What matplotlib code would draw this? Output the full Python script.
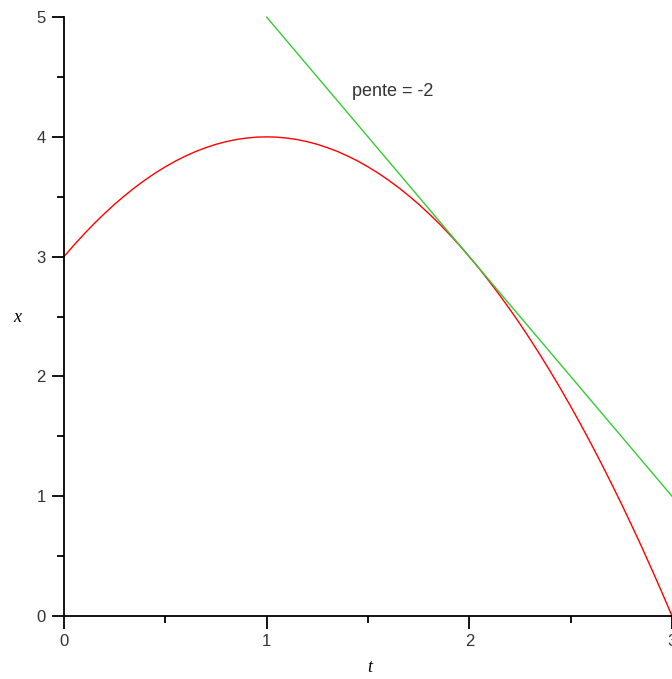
import matplotlib
matplotlib.use('Agg')
import matplotlib.pyplot as plt
from matplotlib.ticker import MultipleLocator

# Courbe x(t)
t_vals = [0.00, 0.05, 0.10, 0.15, 0.20, 0.25, 0.30, 0.35, 0.40, 0.45, 0.50,
          0.55, 0.60, 0.65, 0.70, 0.75, 0.80, 0.85, 0.90, 0.95, 1.00,
          1.05, 1.10, 1.15, 1.20, 1.25, 1.30, 1.35, 1.40, 1.45, 1.50,
          1.55, 1.60, 1.65, 1.70, 1.75, 1.80, 1.85, 1.90, 1.95, 2.00,
          2.05, 2.10, 2.15, 2.20, 2.25, 2.30, 2.35, 2.40, 2.45, 2.50,
          2.55, 2.60, 2.65, 2.70, 2.75, 2.80, 2.85, 2.90, 2.95, 3.00]
x_vals = [3.000, 3.098, 3.190, 3.278, 3.360, 3.438, 3.510, 3.578, 3.640, 3.698, 3.750,
          3.798, 3.840, 3.878, 3.910, 3.938, 3.960, 3.978, 3.990, 3.998, 4.000,
          3.998, 3.990, 3.978, 3.960, 3.938, 3.910, 3.878, 3.840, 3.798, 3.750,
          3.698, 3.640, 3.578, 3.510, 3.438, 3.360, 3.278, 3.190, 3.098, 3.000,
          2.898, 2.790, 2.678, 2.560, 2.438, 2.310, 2.178, 2.040, 1.898, 1.750,
          1.598, 1.440, 1.278, 1.110, 0.938, 0.760, 0.578, 0.390, 0.198, 0.000]

# Tangente (pente = -2)
tan_t = [1.0, 3.0]
tan_x = [5.0, 1.0]

fig = plt.figure(figsize=(6.72, 6.79), dpi=100)
ax = fig.add_axes([0.0952, 0.0928, 0.9048, 0.882])

ax.plot(t_vals, x_vals, color='#ff0000', lw=1.0, clip_on=False)
ax.plot(tan_t, tan_x, color='#33cc33', lw=1.0, clip_on=False)

ax.set_xlim(0, 3)
ax.set_ylim(0, 5)

for side in ['top', 'right']:
    ax.spines[side].set_visible(False)
for side in ['left', 'bottom']:
    ax.spines[side].set_linewidth(1.3)

ax.xaxis.set_major_locator(MultipleLocator(1))
ax.xaxis.set_minor_locator(MultipleLocator(0.5))
ax.yaxis.set_major_locator(MultipleLocator(1))
ax.yaxis.set_minor_locator(MultipleLocator(0.5))
ax.tick_params(which='major', direction='out', length=9, width=1.3,
               labelsize=12, pad=4)
ax.tick_params(which='minor', direction='out', length=5, width=1.3)
for lbl in ax.get_xticklabels() + ax.get_yticklabels():
    lbl.set_fontfamily('Liberation Sans')
    lbl.set_color('#333333')

ax.text(1.42, 4.34, 'pente = -2', fontsize=13, family='Liberation Sans',
        color='#333333')

fig.text(17 / 672, 1 - 318 / 679, 'x', fontsize=13, family='Liberation Serif',
         style='italic', ha='center', va='center')
fig.text(370 / 672, 1 - 668 / 679, 't', fontsize=13, family='Liberation Serif',
         style='italic', ha='center', va='center')

plt.savefig('out.png', dpi=100)
plt.close()
